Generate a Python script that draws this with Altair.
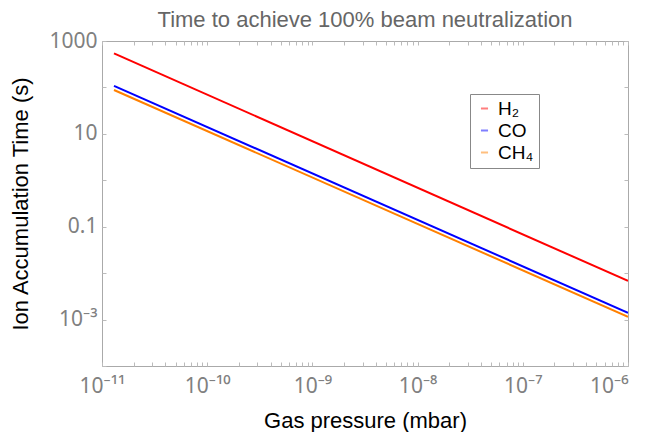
import math
import altair as alt
import pandas as pd

# ---- data ----
pressure = [1.3e-11, 1.0e-6]          # mbar
h2_time = [540.0, 0.0068]             # s
co_time = [108.0, 0.0014]
ch4_time = [88.0, 0.00115]
series_names = ["H\u2082", "CO", "CH\u2084"]
series_colors = ["#ff0000", "#0000ff", "#ff8000"]

x_major = [1e-11, 1e-10, 1e-9, 1e-8, 1e-7, 1e-6]
x_major_labels = ["10\u207b\u00b9\u00b9", "10\u207b\u00b9\u2070", "10\u207b\u2079",
                  "10\u207b\u2078", "10\u207b\u2077", "10\u207b\u2076"]
y_major = [1e-4, 1e-3, 1e-2, 1e-1, 1, 10, 100, 1000]
y_major_labels = ["", "10\u207b\u00b3", "", "0.1", "", "10", "", "1000"]

rows = []
for name, ys in zip(series_names, [h2_time, co_time, ch4_time]):
    for p, t in zip(pressure, ys):
        rows.append({"pressure": p, "time": t, "gas": name})
df = pd.DataFrame(rows)

# tick values: decades plus minor ticks
x_ticks = []
for d in x_major[:-1]:
    x_ticks += [d * k for k in range(1, 10)]
x_ticks.append(x_major[-1])


def label_expr(values, labels):
    expr = "''"
    for v, lab in zip(reversed(values), reversed(labels)):
        e = round(math.log10(v))
        expr = f"abs(log(datum.value)/LN10 - ({e})) < 0.01 ? '{lab}' : ({expr})"
    return expr


font = "Liberation Sans"
tick_font = "Noto Sans"
tick_col = "#bbbbbb"
xscale = alt.Scale(type="log", domain=[1e-11, 1e-6], nice=False)
yscale = alt.Scale(type="log", domain=[1e-4, 1000], nice=False)

main = alt.Chart(df).mark_line(strokeWidth=2, clip=True).encode(
    x=alt.X("pressure:Q", scale=xscale,
            axis=alt.Axis(title="Gas pressure (mbar)", values=x_ticks,
                          labelExpr=label_expr(x_major, x_major_labels),
                          labelAlign={"condition": {"test": "datum.value > 5e-7", "value": "right"},
                                      "value": "center"},
                          grid=False, domain=False, tickSize=4, offset=-4,
                          tickColor=tick_col, labelPadding=9,
                          labelFontSize=21, labelColor="#808080", labelFont=tick_font,
                          titleFontSize=22, titleColor="#000000", titleFont=font,
                          titleFontWeight="normal", titlePadding=14,
                          labelFlush=False, labelOverlap=False)),
    y=alt.Y("time:Q", scale=yscale,
            axis=alt.Axis(title="Ion Accumulation Time (s)", values=y_major,
                          labelExpr=label_expr(y_major, y_major_labels),
                          grid=False, domain=False, tickSize=4, offset=-4,
                          tickColor=tick_col, labelPadding=5,
                          labelFontSize=21, labelColor="#808080", labelFont=tick_font,
                          titleFontSize=22, titleColor="#000000", titleFont=font,
                          titleFontWeight="normal", titlePadding=16,
                          labelFlush=False, labelOverlap=False)),
    color=alt.Color("gas:N",
                    scale=alt.Scale(domain=series_names, range=series_colors),
                    sort=series_names,
                    legend=alt.Legend(title=None, orient="none", legendX=368, legendY=53,
                                      symbolType="stroke", symbolSize=50,
                                      symbolStrokeWidth=2, symbolOpacity=0.5,
                                      labelFontSize=19, labelColor="#000000",
                                      labelFont=font, padding=5, rowPadding=2,
                                      strokeColor="#888888", fillColor="#ffffff",
                                      cornerRadius=0)),
)

# mirrored (inward) ticks on the top and right frame edges
mirror = alt.Chart(df).mark_line(opacity=0).encode(
    x=alt.X("pressure:Q", scale=xscale,
            axis=alt.Axis(orient="top", title=None, values=x_ticks, labels=False,
                          grid=False, domain=False, tickSize=4, offset=-4,
                          tickColor=tick_col)),
    y=alt.Y("time:Q", scale=yscale,
            axis=alt.Axis(orient="right", title=None, values=y_major, labels=False,
                          grid=False, domain=False, tickSize=4, offset=-4,
                          tickColor=tick_col)),
)

chart = alt.layer(main, mirror).resolve_axis(x="independent", y="independent").properties(
    width=526, height=325,
    title=alt.Title("Time to achieve 100% beam neutralization", fontSize=22,
                    color="#666666", font=font, fontWeight="normal", offset=-2,
                    frame="group"),
    autosize=alt.AutoSizeParams(type="none"),
    padding={"left": 94, "top": 33, "right": 14, "bottom": 66},
).configure_view(stroke="#aaaaaa", strokeWidth=1)

chart.save("out.html", embed_options={"renderer": "svg", "actions": False})
